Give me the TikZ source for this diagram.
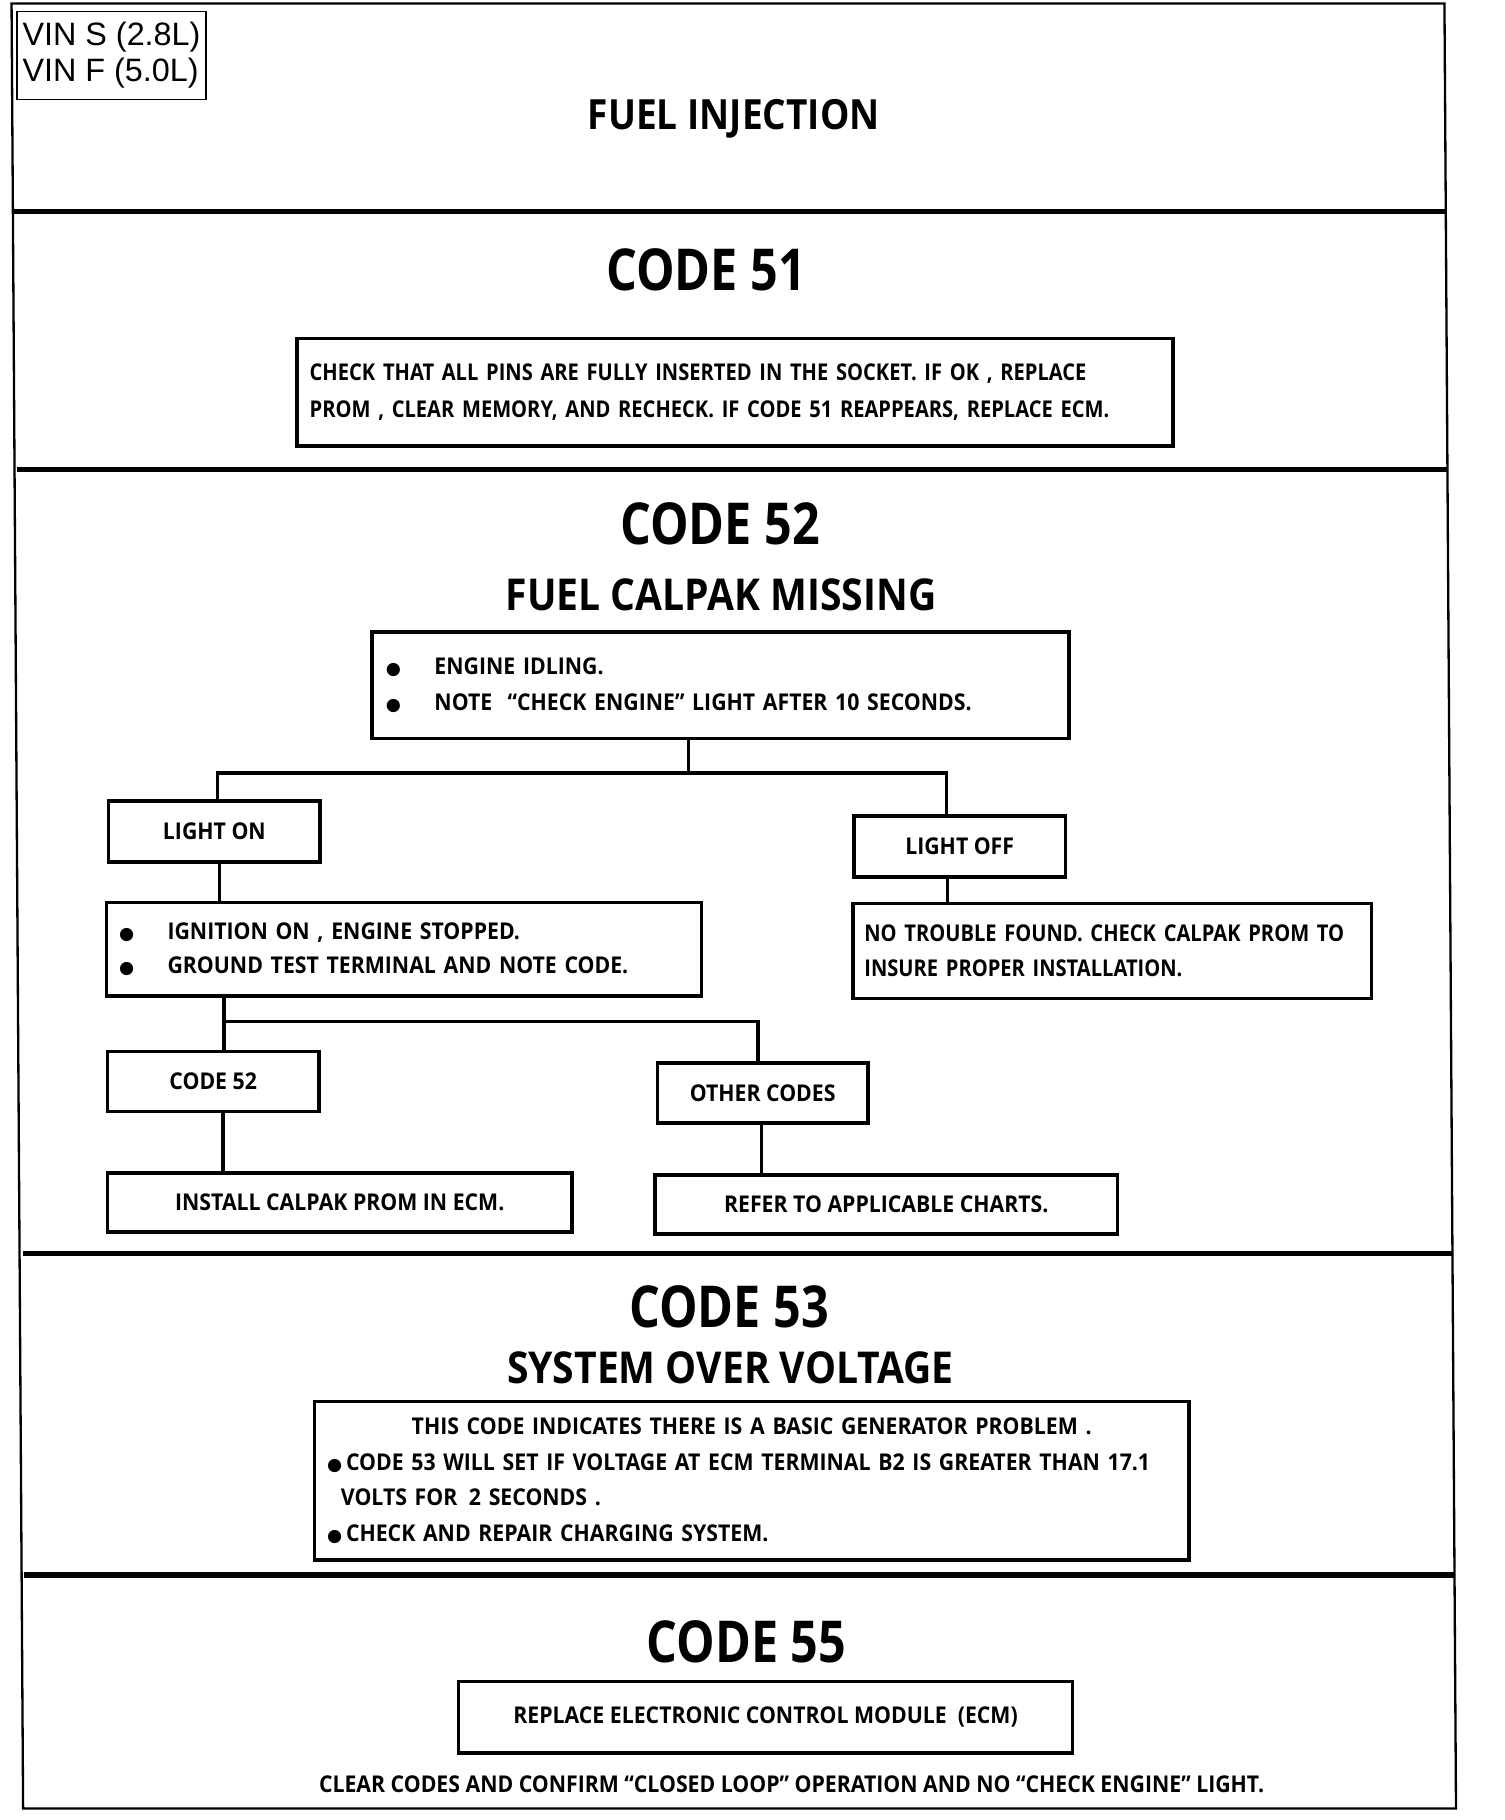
\documentclass[tikz,border=0pt]{standalone}
\usepackage{fontspec}
\newfontfamily\fA{Open Sans}[FakeStretch=0.92]
\newfontfamily\fB{Open Sans}[FakeStretch=0.87]
\newfontfamily\fH{Open Sans}[FakeStretch=0.84]
\newfontfamily\fS{Open Sans}[FakeStretch=0.89]
\newfontfamily\vinf{Liberation Sans}
\newfontfamily\dv{DejaVu Sans}
\newcommand\mysz[2]{\fontsize{#1}{#2}\selectfont}
\newcommand\bul{{\dv\mysz{15}{15}●}}
\tikzset{
  bx/.style 2 args={draw, line width=3pt, rectangle, inner sep=0pt, minimum width=#1, minimum height=#2, font=\fA\bfseries\mysz{20}{31}},
  hd/.style={anchor=base, inner sep=0pt, font=\fH\bfseries\mysz{50}{60}},
  sub/.style={anchor=base, inner sep=0pt, font=\fS\bfseries\mysz{38}{46}},
  conn/.style={line width=3pt},
  divider/.style={line width=4.5pt},
}
\begin{document}
\begin{tikzpicture}[x=1pt,y=-1pt]
\useasboundingbox (0,0) rectangle (1302,1575);
% outer frame
\draw[line width=2pt] (10,3) -- (1250,3) -- (1260,1565) -- (20,1565) -- cycle;
% dividers
\draw[divider] (11,183) -- (1251,183);
\draw[divider] (15,406) -- (1253,406);
\draw[divider] (20,1085) -- (1257,1085);
\draw[divider] (21,1363) -- (1258,1363);
% VIN box
\node[draw, line width=1.5pt, minimum width=163pt, minimum height=76pt, inner sep=0pt, align=left, font=\vinf\mysz{28}{31}] (vin) at (96.5,48) {VIN S (2.8L)\\VIN F (5.0L)};
% title
\node[anchor=base, inner sep=0pt, font=\fS\bfseries\mysz{36}{40}] (title) at (635,112) {FUEL INJECTION};
% code 51
\node[hd] (h51) at (611,251) {CODE 51};
\node[bx={758pt}{93pt}, text width=736pt, inner xsep=11pt, align=left, font=\fB\bfseries\mysz{20}{32}] (b51) at (636,339.5)
 {CHECK THAT ALL PINS ARE FULLY INSERTED IN THE SOCKET. IF OK , REPLACE\\PROM , CLEAR MEMORY, AND RECHECK. IF CODE 51 REAPPEARS, REPLACE ECM.};
% code 52
\node[hd] (h52) at (623,471) {CODE 52};
\node[sub] (s52) at (624,528) {FUEL CALPAK MISSING};
\node[bx={603pt}{92pt}, text width=579pt, inner xsep=12pt, align=left] (A) at (623.5,593)
 {\makebox[42pt][l]{\bul}ENGINE IDLING.\\\makebox[42pt][l]{\bul}NOTE \ “CHECK ENGINE” LIGHT AFTER 10 SECONDS.};
\node[bx={183pt}{53pt}] (lon) at (185.5,719.5) {LIGHT ON};
\node[bx={183pt}{53pt}] (loff) at (830.5,732.5) {LIGHT OFF};
\node[bx={515pt}{81pt}, text width=493pt, inner xsep=11pt, align=left, font=\fA\bfseries\mysz{20}{30}] (B) at (349.5,821.5)
 {\makebox[42pt][l]{\bul}IGNITION ON , ENGINE STOPPED.\\\makebox[42pt][l]{\bul}GROUND TEST TERMINAL AND NOTE CODE.};
\node[bx={449pt}{82pt}, text width=429pt, inner xsep=10pt, align=left, font=\fB\bfseries\mysz{20}{30}] (C) at (962.5,823)
 {NO TROUBLE FOUND. CHECK CALPAK PROM TO\\INSURE PROPER INSTALLATION.};
\node[bx={183pt}{52pt}] (c52) at (184.5,936) {CODE 52};
\node[bx={182pt}{52pt}] (oth) at (660,946) {OTHER CODES};
\node[bx={402pt}{51pt}] (inst) at (294,1040.5) {INSTALL CALPAK PROM IN ECM.};
\node[bx={400pt}{51pt}] (ref) at (767,1042.5) {REFER TO APPLICABLE CHARTS.};
% connectors code 52
\coordinate (xa) at (596,0);
\coordinate (j1) at (596,669);
\coordinate (xlon) at (188,0);
\coordinate (xloff) at (819,0);
\draw[conn] (A.south -| xa) -- (j1);
\draw[conn] (lon.north -| xlon) |- (j1) -| (loff.north -| xloff);
\coordinate (xlb) at (190,0);
\draw[conn] (lon.south -| xlb) -- (B.north -| xlb);
\coordinate (xlc) at (820,0);
\draw[conn] (loff.south -| xlc) -- (C.north -| xlc);
\coordinate (xb) at (194,0);
\coordinate (j2) at (194,884);
\coordinate (xo) at (656,0);
\draw[conn] (B.south -| xb) -- (c52.north -| xb);
\draw[conn] (j2) -| (oth.north -| xo);
\coordinate (xc) at (193,0);
\draw[conn] (c52.south -| xc) -- (inst.north -| xc);
\coordinate (xr) at (659,0);
\draw[conn] (oth.south -| xr) -- (ref.north -| xr);
% code 53
\node[hd] (h53) at (631,1149) {CODE 53};
\node[sub] (s53) at (632,1197) {SYSTEM OVER VOLTAGE};
\node[bx={757pt}{137pt}, text width=735pt, inner xsep=11pt, align=left, font=\fA\bfseries\mysz{20}{30.7}] (D) at (650.5,1281.5)
 {\makebox[735pt][c]{THIS CODE INDICATES THERE IS A BASIC GENERATOR PROBLEM .}\\
  \bul\,CODE 53 WILL SET IF VOLTAGE AT ECM TERMINAL B2 IS GREATER THAN 17.1\\
  \hspace*{12pt}VOLTS FOR \,2 SECONDS .\\
  \bul\,CHECK AND REPAIR CHARGING SYSTEM.};
% code 55
\node[hd] (h55) at (646,1439) {CODE 55};
\node[bx={531pt}{62pt}] (E) at (662.5,1486) {REPLACE ELECTRONIC CONTROL MODULE \ (ECM)};
\node[anchor=base, inner sep=0pt, font=\fA\bfseries\mysz{20}{24}] (foot) at (685,1551)
 {CLEAR CODES AND CONFIRM “CLOSED LOOP” OPERATION AND NO “CHECK ENGINE” LIGHT.};
\end{tikzpicture}
\end{document}
